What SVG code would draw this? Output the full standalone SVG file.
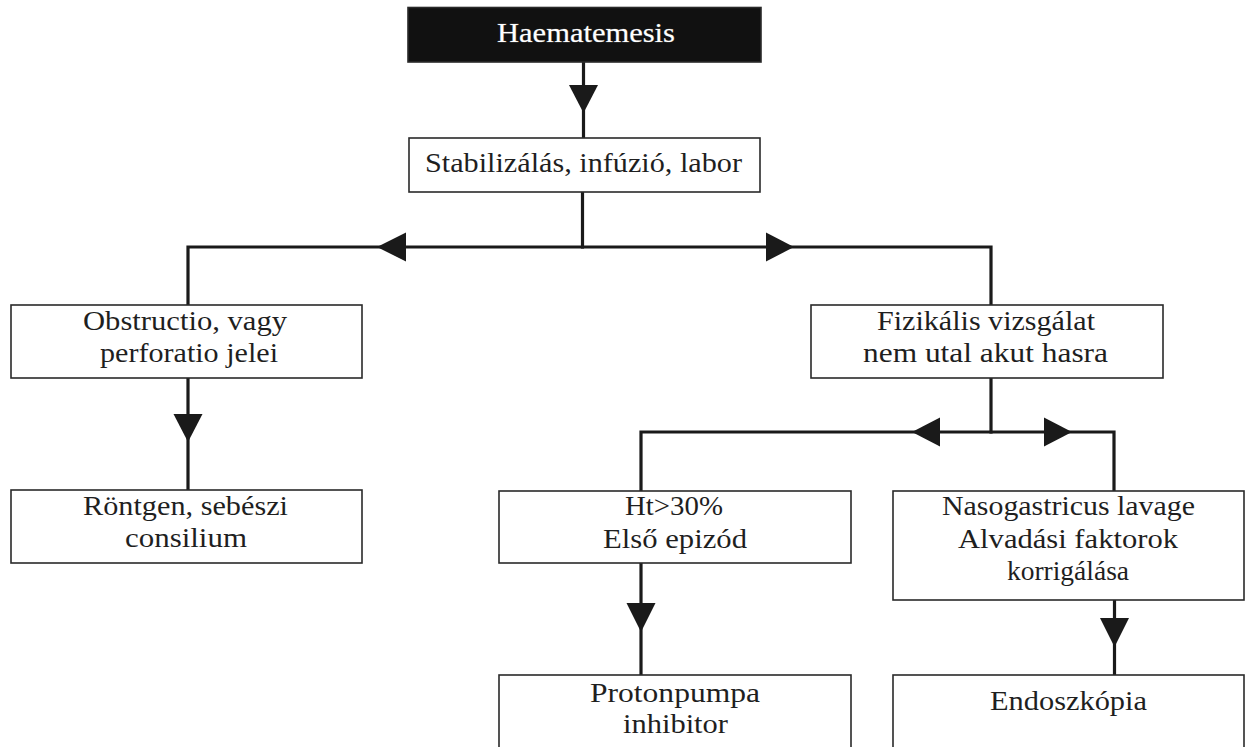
<svg xmlns="http://www.w3.org/2000/svg" width="1246" height="747" viewBox="0 0 1246 747">
<style>
.box{fill:#fff;stroke:#2a2a2a;stroke-width:1.6}
.dark{fill:#111;stroke:#2a2a2a;stroke-width:1.6}
.t{font-family:'Liberation Serif',serif;font-size:27.5px;fill:#1f1f1f;text-anchor:middle}
.tw{font-family:'Liberation Serif',serif;font-size:27px;fill:#fff;stroke:#666;stroke-width:0.7;paint-order:stroke;text-anchor:middle}
.c{stroke:#1a1a1a;stroke-width:3.2;fill:none;stroke-linejoin:miter;stroke-linecap:square}
.ah{fill:#1a1a1a;stroke:none}
</style>
<rect width="1246" height="747" fill="#fff"/>
<g id="connectors">
<path class="c" d="M583.5 63 V138"/>
<polygon class="ah" points="569,85 598,85 583.5,113"/>
<path class="c" d="M582.5 192 V247"/>
<path class="c" d="M188 305 V247 H991 V305"/>
<polygon class="ah" points="406,232.5 406,261.5 377,247"/>
<polygon class="ah" points="766,232.5 766,261.5 794,247"/>
<path class="c" d="M188 378 V490"/>
<polygon class="ah" points="173.5,414 202.5,414 188,442"/>
<path class="c" d="M991 378 V432"/>
<path class="c" d="M641 491 V432 H1114 V491"/>
<polygon class="ah" points="940,417.5 940,446.5 912,432"/>
<polygon class="ah" points="1044,417.5 1044,446.5 1072,432"/>
<path class="c" d="M641 563 V675"/>
<polygon class="ah" points="626.5,603 655.5,603 641,632"/>
<path class="c" d="M1114.5 600 V675"/>
<polygon class="ah" points="1100,618 1129,618 1114.5,647"/>
</g>
<g id="n-haematemesis">
<rect class="dark" x="408" y="7.5" width="353" height="54.5"/>
<text class="tw" x="586" y="42" textLength="178" lengthAdjust="spacingAndGlyphs">Haematemesis</text>
</g>
<g id="n-stabil">
<rect class="box" x="409" y="138" width="351" height="54"/>
<text class="t" x="583.5" y="172" textLength="317" lengthAdjust="spacingAndGlyphs">Stabilizálás, infúzió, labor</text>
</g>
<g id="n-obstructio">
<rect class="box" x="11" y="305" width="351" height="73"/>
<text class="t" x="185" y="330" textLength="204" lengthAdjust="spacingAndGlyphs">Obstructio, vagy</text>
<text class="t" x="189" y="362" textLength="178" lengthAdjust="spacingAndGlyphs">perforatio jelei</text>
</g>
<g id="n-fizikalis">
<rect class="box" x="811" y="305" width="352" height="73"/>
<text class="t" x="986" y="330" textLength="218" lengthAdjust="spacingAndGlyphs">Fizikális vizsgálat</text>
<text class="t" x="985.5" y="362" textLength="245" lengthAdjust="spacingAndGlyphs">nem utal akut hasra</text>
</g>
<g id="n-rontgen">
<rect class="box" x="11" y="490" width="351" height="73"/>
<text class="t" x="185.5" y="515" textLength="205" lengthAdjust="spacingAndGlyphs">Röntgen, sebészi</text>
<text class="t" x="186" y="547" textLength="122" lengthAdjust="spacingAndGlyphs">consilium</text>
</g>
<g id="n-ht">
<rect class="box" x="499" y="491" width="352" height="72"/>
<text class="t" x="674" y="515" textLength="98" lengthAdjust="spacingAndGlyphs">Ht&gt;30%</text>
<text class="t" x="675" y="548" textLength="144" lengthAdjust="spacingAndGlyphs">Első epizód</text>
</g>
<g id="n-naso">
<rect class="box" x="893" y="491" width="351" height="109"/>
<text class="t" x="1068.5" y="515" textLength="253" lengthAdjust="spacingAndGlyphs">Nasogastricus lavage</text>
<text class="t" x="1068" y="548" textLength="220" lengthAdjust="spacingAndGlyphs">Alvadási faktorok</text>
<text class="t" x="1068" y="580">korrigálása</text>
</g>
<g id="n-proton">
<rect class="box" x="499" y="675" width="352" height="100"/>
<text class="t" x="675" y="702" textLength="170" lengthAdjust="spacingAndGlyphs">Protonpumpa</text>
<text class="t" x="675.5" y="733" textLength="105" lengthAdjust="spacingAndGlyphs">inhibitor</text>
</g>
<g id="n-endo">
<rect class="box" x="893" y="675" width="351" height="100"/>
<text class="t" x="1068.5" y="710" textLength="157" lengthAdjust="spacingAndGlyphs">Endoszkópia</text>
</g>
</svg>
